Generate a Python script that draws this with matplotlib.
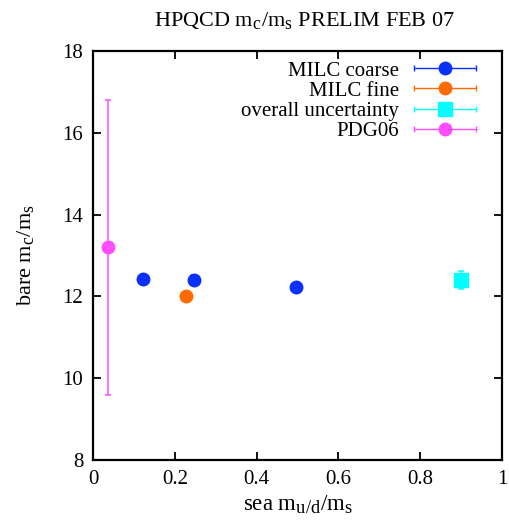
import numpy as np
import matplotlib
matplotlib.use('Agg')
import matplotlib.pyplot as plt
import matplotlib._mathtext as mt
from matplotlib.legend_handler import HandlerErrorbar

# gnuplot-style subscripts are only slightly smaller than the base text
mt.SHRINK_FACTOR = 0.8

plt.rcParams['font.family'] = ['Liberation Serif', 'DejaVu Serif']
plt.rcParams['font.size'] = 15

# data
coarse_x = [0.122, 0.247, 0.497]
coarse_y = [12.43, 12.40, 12.23]
coarse_err = [0.08, 0.12, 0.06]

fine_x = [0.227]
fine_y = [12.01]
fine_err = [0.05]

overall_x = [0.9]
overall_y = [12.40]
overall_err = [0.22]

pdg_x = [0.037]
pdg_y = [13.2]
pdg_err = [3.6]

blue = '#0a30ff'
orange = '#ff6a00'
cyan = '#00ffff'
magenta = '#ff4cff'

fig = plt.figure(figsize=(5.09, 5.25), dpi=100)
ax = fig.add_axes([93 / 509, 65 / 525, 409 / 509, 409 / 525])

eb = dict(capsize=2.5, elinewidth=1.1, capthick=1.1)
ax.errorbar(pdg_x, pdg_y, yerr=pdg_err, fmt='o', color=magenta, ms=9, **eb)
ax.errorbar(coarse_x, coarse_y, yerr=coarse_err, fmt='o', color=blue, ms=9, **eb)
ax.errorbar(fine_x, fine_y, yerr=fine_err, fmt='o', color=orange, ms=9, **eb)
ax.errorbar(overall_x, overall_y, yerr=overall_err, fmt='s', color=cyan, ms=9.5, **eb)

# legend proxies with horizontal error bars (gnuplot style)
labels = ['MILC coarse', 'MILC fine', 'overall uncertainty', 'PDG06']
styles = [('o', blue, 9), ('o', orange, 9), ('s', cyan, 9.5), ('o', magenta, 9)]
handles = []
for m, c, s in styles:
    h = ax.errorbar([np.nan], [np.nan], xerr=[1], fmt=m, color=c, ms=s,
                    capsize=2.5, elinewidth=1.0, capthick=1.0)
    handles.append(h)
leg = ax.legend(handles, labels, loc='upper right', markerfirst=False,
                frameon=False, handlelength=3.0, labelspacing=0.03,
                borderaxespad=0.0, borderpad=0.0, handletextpad=0.7,
                bbox_to_anchor=((476 - 93) / 409, (460 - 61) / 409),
                handler_map={type(handles[0]): HandlerErrorbar(xerr_size=1.5)})

ax.set_xlim(0, 1)
ax.set_ylim(8, 18)
ax.set_xticks([0, 0.2, 0.4, 0.6, 0.8, 1])
ax.set_xticklabels(['0', '0.2', '0.4', '0.6', '0.8', '1'])
ax.set_yticks([8, 10, 12, 14, 16, 18])
ax.tick_params(direction='in', length=6, width=1.3, top=True, right=True, pad=7)
for s in ax.spines.values():
    s.set_linewidth(1.6)

ax.set_xlabel(r'sea m$_\mathregular{u/d}$/m$_\mathregular{s}$', fontsize=16.5, labelpad=3)
ax.set_ylabel(r'bare m$_\mathregular{c}$/m$_\mathregular{s}$', fontsize=16, labelpad=18)
ax.set_title(r'HPQCD m$_\mathregular{c}$/m$_\mathregular{s}$ PRELIM FEB 07',
             fontsize=16, pad=18, x=0.516)

fig.savefig('out.png', dpi=100)
